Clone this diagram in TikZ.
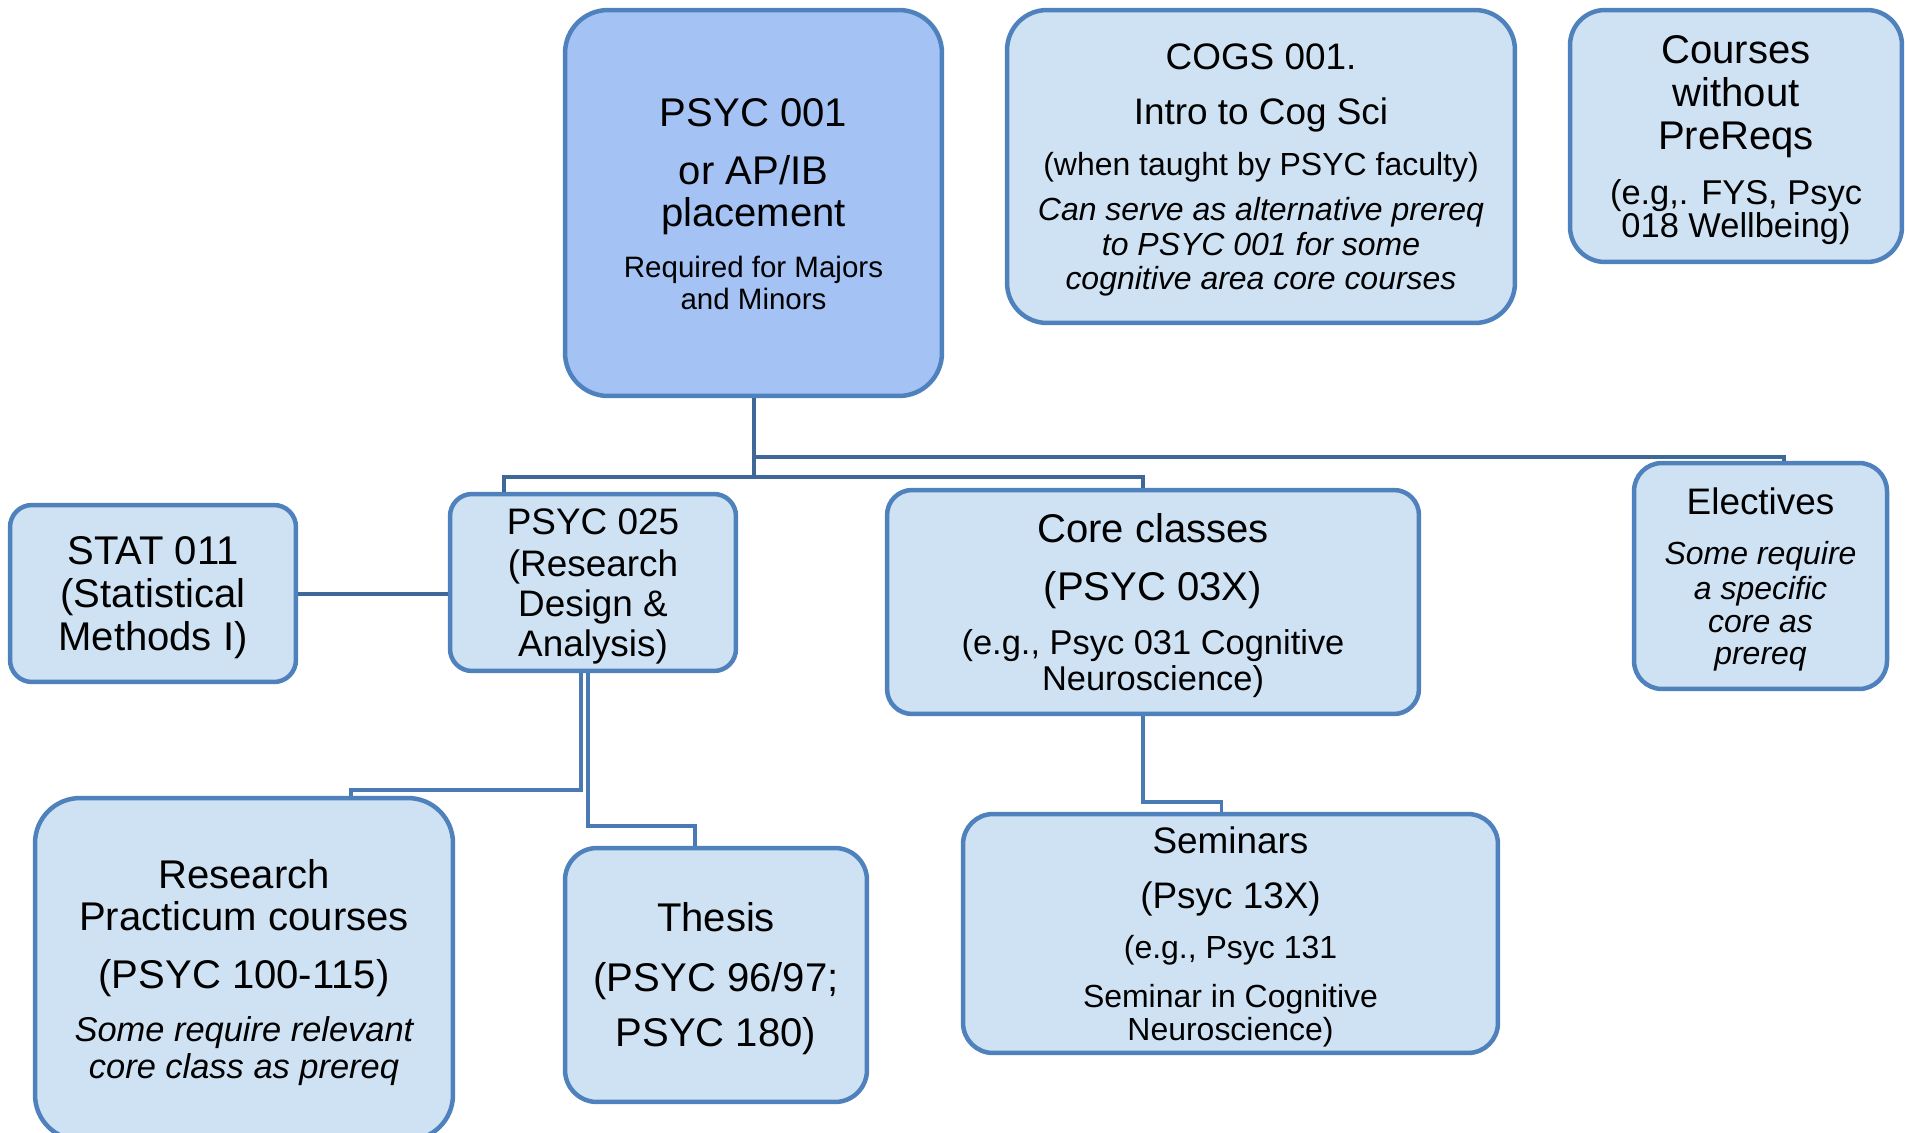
\documentclass[tikz,border=0pt]{standalone}
\usepackage{fontspec}
\setmainfont{Liberation Sans}
\usetikzlibrary{calc}
\definecolor{boxline}{HTML}{4F81BD}
\definecolor{boxfill}{HTML}{CFE2F3}
\definecolor{topfill}{HTML}{A4C2F4}
\definecolor{trunkline}{HTML}{3F6899}
\definecolor{linkline}{HTML}{4A7AB4}
\newcommand{\fA}{\fontsize{22.8}{0}\selectfont}
\newcommand{\fB}{\fontsize{21}{0}\selectfont}
\newcommand{\fC}{\fontsize{19.6}{0}\selectfont}
\newcommand{\fD}{\fontsize{18.2}{0}\selectfont}
\newcommand{\fE}{\fontsize{16.8}{0}\selectfont}
% line strut (ascent and descent of the font)
\newcommand{\ls}{\rule[-0.212em]{0pt}{1.117em}}
\setlength{\lineskiplimit}{-100pt}

\begin{document}
\begin{tikzpicture}[x=0.02cm, y=-0.02cm,
    course/.style={draw=boxline, fill=boxfill, line width=0.09cm, align=center, inner sep=0pt, font=\fA},
    trunk/.style={draw=trunkline, line width=0.08cm},
    link/.style={draw=linkline, line width=0.07cm}]
    \useasboundingbox (0,0) rectangle (1905,1132);
    % Top row
    \node[course, fill=topfill, minimum width=7.54cm, minimum height=7.72cm, rounded corners=0.86cm] (p001) at (753.5,203)
        {\fA\ls PSYC 001\\[33pt]\fA or AP/IB\\[23.9pt]\fA placement\\[28.5pt]\fE Required for Majors\\[18.2pt]\fE\ls and Minors};
    \node[course, minimum width=10.16cm, minimum height=6.26cm, rounded corners=0.8cm] (cogs) at (1261,166.5)
        {\fB\ls COGS 001.\\[31.3pt]\fB Intro to Cog Sci\\[29pt]\fD (when taught by PSYC faculty)\\[25.6pt]\fD\itshape Can serve as alternative prereq\\[20pt]\fD\itshape to PSYC 001 for some\\[19.4pt]\fD\itshape\ls cognitive area core courses};
    \node[course, minimum width=6.64cm, minimum height=5.04cm, rounded corners=0.7cm] (nopre) at (1736,136)
        {\fA\ls Courses\\[24.5pt]\fA without\\[24pt]\fA PreReqs\\[31.3pt]\fC (e.g,. FYS, Psyc\\[18.8pt]\fC\ls 018 Wellbeing)};
    % Middle row
    \node[course, minimum width=5.72cm, minimum height=3.54cm, rounded corners=0.44cm] (stat) at (153,593.5)
        {\fA\ls STAT 011\\[24.5pt]\fA (Statistical\\[24.5pt]\fA\ls Methods I)};
    \node[course, minimum width=5.72cm, minimum height=3.54cm, rounded corners=0.44cm] (p025) at (593,582.5)
        {\fB\ls PSYC 025\\[23.9pt]\fB (Research\\[22.8pt]\fB Design \&\\[22.8pt]\fB\ls Analysis)};
    \node[course, minimum width=10.64cm, minimum height=4.48cm, rounded corners=0.5cm] (core) at (1153,602)
        {\fA\ls Core classes\\[33pt]\fA (PSYC 03X)\\[30.7pt]\fC (e.g., Psyc 031 Cognitive\\[20.5pt]\fC\ls Neuroscience)};
    \node[course, minimum width=5.06cm, minimum height=4.52cm, rounded corners=0.56cm] (elect) at (1760.5,576)
        {\fB\ls Electives\\[28.5pt]\fD\itshape Some require\\[20pt]\fD\itshape a specific\\[18.8pt]\fD\itshape core as\\[18.2pt]\fD\itshape\ls prereq};
    % Bottom row
    \node[course, minimum width=8.36cm, minimum height=6.84cm, rounded corners=0.9cm] (research) at (244,969)
        {\fA\ls Research\\[23.9pt]\fA Practicum courses\\[33pt]\fA (PSYC 100-115)\\[30.2pt]\fC\itshape Some require relevant\\[21pt]\fC\itshape\ls core class as prereq};
    \node[course, minimum width=6.04cm, minimum height=5.08cm, rounded corners=0.64cm] (thesis) at (716,975)
        {\fA\ls Thesis\\[34pt]\fA (PSYC 96/97;\\[31.3pt]\fA\ls PSYC 180)};
    \node[course, minimum width=10.7cm, minimum height=4.78cm, rounded corners=0.6cm] (sem) at (1230.5,933.5)
        {\fB\ls Seminars\\[31.3pt]\fB (Psyc 13X)\\[28.5pt]\fD (e.g., Psyc 131\\[27.9pt]\fD Seminar in Cognitive\\[18.8pt]\fD\ls Neuroscience)};
    %
    % Connectors:
    \draw[trunk] (p001.south) -- ++(0,59) -| ($(elect.north)+(23,0)$);
    \draw[trunk] (p001.south) -- ++(0,79) -| ($(p025.north)+(-89,0)$);
    \draw[trunk] (p001.south) ++(0,79) -| ($(core.north)+(-10,0)$);
    \draw[trunk] (stat.east) -- (stat.east -| p025.west);
    \draw[link] ($(p025.south)+(-12,0)$) -- ++(0,117) -| ($(research.north)+(107,0)$);
    \draw[link] ($(p025.south)+(-5,0)$) -- ++(0,153) -| ($(thesis.north)+(-21,0)$);
    \draw[link] ($(core.south)+(-10,0)$) -- ++(0,86) -| ($(sem.north)+(-9,0)$);
\end{tikzpicture}
\end{document}
